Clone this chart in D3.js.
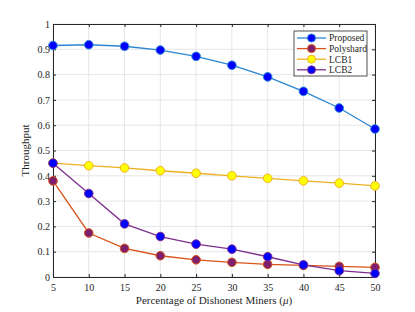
<!DOCTYPE html>
<html>
<head>
<meta charset="utf-8">
<script src="https://cdn.jsdelivr.net/npm/d3@7"></script>
<style>
  body { margin: 0; background: #fff; }
  svg text { font-family: "Liberation Serif", "Times New Roman", serif; fill: #262626; }
</style>
</head>
<body>
<svg id="chart"></svg>
<script>
// x values: percentage of dishonest miners
const mu = [5, 10, 15, 20, 25, 30, 35, 40, 45, 50];

const proposed = [0.915, 0.918, 0.912, 0.897, 0.872, 0.837, 0.791, 0.734, 0.668, 0.585];
const polyshard = [0.38, 0.174, 0.113, 0.084, 0.068, 0.058, 0.05, 0.046, 0.042, 0.038];
const lcb1 = [0.45, 0.44, 0.431, 0.42, 0.41, 0.40, 0.39, 0.38, 0.371, 0.36];
const lcb2 = [0.45, 0.33, 0.21, 0.16, 0.13, 0.11, 0.08, 0.048, 0.025, 0.014];

const seriesNames = ["Proposed", "Polyshard", "LCB1", "LCB2"];
const yTicks = [0, 0.1, 0.2, 0.3, 0.4, 0.5, 0.6, 0.7, 0.8, 0.9, 1];

const series = [
  { name: seriesNames[0], values: proposed, line: "#2a86d2", fill: "#0000ff", edge: "#2a86d2" },
  { name: seriesNames[1], values: polyshard, line: "#d95319", fill: "#7e1f6e", edge: "#d95319" },
  { name: seriesNames[2], values: lcb1, line: "#edb120", fill: "#ffff00", edge: "#edb120" },
  { name: seriesNames[3], values: lcb2, line: "#7e2f8e", fill: "#0000ff", edge: "#7e2f8e" }
];

const W = 415, H = 312;
const margin = { top: 24, right: 40, bottom: 35, left: 53 };
const width = W - margin.left - margin.right;
const height = H - margin.top - margin.bottom;

const svg = d3.select('#chart').attr('width', W).attr('height', H);
const g = svg.append('g').attr('transform', `translate(${margin.left},${margin.top})`);

const x = d3.scaleLinear().domain([5, 50]).range([0, width]);
const y = d3.scaleLinear().domain([0, 1]).range([height, 0]);

// grid
g.append('g').selectAll('line').data(mu).enter().append('line')
  .attr('x1', d => x(d)).attr('x2', d => x(d))
  .attr('y1', 0).attr('y2', height)
  .attr('stroke', '#e6e6e6').attr('stroke-width', 1);
g.append('g').selectAll('line').data(yTicks).enter().append('line')
  .attr('y1', d => y(d)).attr('y2', d => y(d))
  .attr('x1', 0).attr('x2', width)
  .attr('stroke', '#e6e6e6').attr('stroke-width', 1);

// axes on all four sides, ticks pointing inwards
const axisStyle = sel => {
  sel.select('.domain').attr('stroke', '#262626');
  sel.selectAll('.tick line').attr('stroke', '#262626');
  sel.selectAll('.tick text').style('font-size', '10px').attr('fill', '#262626');
};
g.append('g').attr('transform', `translate(0,${height})`)
  .call(d3.axisBottom(x).tickValues(mu).tickSizeInner(-3).tickSizeOuter(0).tickPadding(7))
  .call(axisStyle);
g.append('g')
  .call(d3.axisLeft(y).tickValues(yTicks).tickFormat(d3.format('')).tickSizeInner(-3).tickSizeOuter(0).tickPadding(3))
  .call(axisStyle);
g.append('g')
  .call(d3.axisTop(x).tickValues(mu).tickSizeInner(-3).tickSizeOuter(0).tickFormat(''))
  .call(axisStyle);
g.append('g').attr('transform', `translate(${width},0)`)
  .call(d3.axisRight(y).tickValues(yTicks).tickSizeInner(-3).tickSizeOuter(0).tickFormat(''))
  .call(axisStyle);

// lines and markers
const line = d3.line().x((d, i) => x(mu[i])).y(d => y(d));
series.forEach(s => {
  g.append('path').datum(s.values)
    .attr('d', line).attr('fill', 'none')
    .attr('stroke', s.line).attr('stroke-width', 1.3);
  g.append('g').selectAll('circle').data(s.values).enter().append('circle')
    .attr('cx', (d, i) => x(mu[i])).attr('cy', d => y(d)).attr('r', 4.3)
    .attr('fill', s.fill).attr('stroke', s.edge).attr('stroke-width', 1);
});

// axis labels
svg.append('text')
  .attr('x', margin.left + width / 2).attr('y', 304)
  .attr('text-anchor', 'middle').style('font-size', '11px')
  .html('Percentage of Dishonest Miners (<tspan font-style="italic">μ</tspan>)');
svg.append('text')
  .attr('transform', `translate(29,${margin.top + height / 2}) rotate(-90)`)
  .attr('text-anchor', 'middle').style('font-size', '11px')
  .text('Throughput');

// legend
const lg = svg.append('g').attr('transform', 'translate(294,31)');
lg.append('rect').attr('width', 73).attr('height', 45)
  .attr('fill', '#fff').attr('stroke', '#262626').attr('stroke-width', 0.8);
series.forEach((s, i) => {
  const ly = 7 + i * 10.6;
  lg.append('line').attr('x1', 3).attr('x2', 32).attr('y1', ly).attr('y2', ly)
    .attr('stroke', s.line).attr('stroke-width', 1.3);
  lg.append('circle').attr('cx', 17.5).attr('cy', ly).attr('r', 4)
    .attr('fill', s.fill).attr('stroke', s.edge).attr('stroke-width', 1);
  lg.append('text').attr('x', 35).attr('y', ly + 3.3)
    .style('font-size', '9.5px').text(s.name);
});
</script>
</body>
</html>
